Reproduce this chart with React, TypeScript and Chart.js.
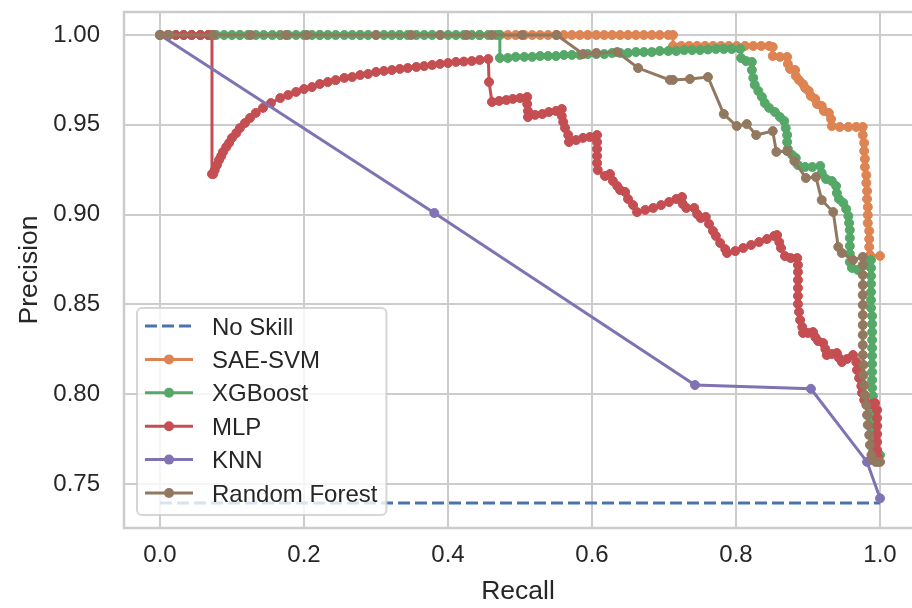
import React, { useEffect, useRef } from 'react';
import { Chart, registerables } from 'chart.js';

Chart.register(...registerables);

// ---------- data ----------
const seriesNames = ['No Skill', 'SAE-SVM', 'XGBoost', 'MLP', 'KNN', 'Random Forest'];
const seriesColors = ['#4C72B0', '#DD8452', '#55A868', '#C44E52', '#8172B3', '#937860'];

const xTickValues = [0, 0.2, 0.4, 0.6, 0.8, 1.0];
const xTickLabels = ['0.0', '0.2', '0.4', '0.6', '0.8', '1.0'];
const yTickValues = [0.75, 0.8, 0.85, 0.9, 0.95, 1.0];
const yTickLabels = ['0.75', '0.80', '0.85', '0.90', '0.95', '1.00'];

const xTitle = 'Recall';
const yTitle = 'Precision';

// [recall, precision]
const noSkillPoints: [number, number][] = [[0, 0.7394], [1, 0.7394]];

const saeSvmPoints: [number, number][] = [
  [0, 1], [0.056, 1], [0.111, 1], [0.167, 1], [0.222, 1], [0.278, 1], [0.333, 1], [0.389, 1], [0.444, 1],
  [0.472, 1], [0.483, 1], [0.494, 1], [0.506, 1], [0.517, 1], [0.528, 1], [0.539, 1], [0.55, 1], [0.561, 1],
  [0.572, 1], [0.583, 1], [0.594, 1], [0.606, 1], [0.617, 1], [0.628, 1], [0.639, 1], [0.65, 1], [0.661, 1],
  [0.672, 1], [0.683, 1], [0.694, 1], [0.706, 1], [0.7125, 1],
  [0.7125, 0.9939], [0.724, 0.9939], [0.735, 0.9939], [0.746, 0.9939], [0.757, 0.9939], [0.768, 0.9939],
  [0.779, 0.9939], [0.79, 0.9939], [0.801, 0.9939], [0.8125, 0.9939], [0.824, 0.9939], [0.835, 0.9939],
  [0.846, 0.9939], [0.851, 0.9933],
  [0.851, 0.9883], [0.861, 0.9878], [0.871, 0.9878], [0.872, 0.9839], [0.875, 0.9811], [0.882, 0.9805],
  [0.883, 0.9772], [0.8875, 0.9749], [0.893, 0.9727], [0.896, 0.9705], [0.901, 0.9688], [0.904, 0.966],
  [0.91, 0.9644], [0.9125, 0.9616], [0.919, 0.9605], [0.922, 0.9577], [0.929, 0.9566], [0.932, 0.9532],
  [0.933, 0.9493], [0.944, 0.9488], [0.956, 0.9488], [0.967, 0.9488], [0.976, 0.9488],
  [0.976, 0.9443], [0.978, 0.9399], [0.978, 0.9354], [0.979, 0.931], [0.979, 0.9265], [0.981, 0.922],
  [0.981, 0.9176], [0.982, 0.9131], [0.982, 0.9087], [0.983, 0.9042], [0.983, 0.8998], [0.983, 0.8953],
  [0.985, 0.8909], [0.985, 0.8864], [0.985, 0.882], [0.986, 0.8775], [1.0, 0.877],
];

const xgboostPoints: [number, number][] = [
  [0, 1], [0.011, 1], [0.022, 1], [0.033, 1], [0.044, 1], [0.056, 1], [0.067, 1], [0.078, 1], [0.089, 1],
  [0.1, 1], [0.111, 1], [0.122, 1], [0.133, 1], [0.144, 1], [0.156, 1], [0.167, 1], [0.178, 1], [0.189, 1],
  [0.2, 1], [0.211, 1], [0.222, 1], [0.233, 1], [0.244, 1], [0.256, 1], [0.267, 1], [0.278, 1], [0.289, 1],
  [0.3, 1], [0.311, 1], [0.322, 1], [0.333, 1], [0.344, 1], [0.356, 1], [0.367, 1], [0.378, 1], [0.389, 1],
  [0.4, 1], [0.411, 1], [0.422, 1], [0.433, 1], [0.444, 1], [0.456, 1], [0.467, 1], [0.472, 1],
  [0.472, 0.9872], [0.483, 0.9872], [0.494, 0.9878], [0.506, 0.9878], [0.517, 0.9878], [0.528, 0.9883],
  [0.539, 0.9883], [0.55, 0.9883], [0.561, 0.9889], [0.572, 0.9889], [0.583, 0.9889], [0.594, 0.9894],
  [0.606, 0.9894], [0.617, 0.9894], [0.628, 0.99], [0.639, 0.99], [0.65, 0.99], [0.661, 0.9905],
  [0.672, 0.9905], [0.683, 0.9905], [0.694, 0.9911], [0.706, 0.9911], [0.717, 0.9911], [0.728, 0.9916],
  [0.739, 0.9916], [0.75, 0.9916], [0.761, 0.9919], [0.772, 0.9922], [0.783, 0.9922], [0.794, 0.9922],
  [0.806, 0.9922],
  [0.807, 0.9872], [0.814, 0.9855], [0.822, 0.985], [0.822, 0.9805], [0.824, 0.9761], [0.826, 0.9722],
  [0.831, 0.9688], [0.836, 0.9655], [0.84, 0.9621], [0.846, 0.9594], [0.854, 0.9571], [0.861, 0.9543],
  [0.867, 0.9521], [0.869, 0.9482], [0.871, 0.9443], [0.871, 0.9404], [0.872, 0.9365], [0.878, 0.9332],
  [0.883, 0.9315], [0.886, 0.9276], [0.896, 0.9265], [0.906, 0.9265], [0.917, 0.9271], [0.919, 0.9232],
  [0.925, 0.9198], [0.933, 0.9187], [0.939, 0.9159], [0.94, 0.912], [0.943, 0.9087], [0.949, 0.9065],
  [0.953, 0.9031], [0.956, 0.8992], [0.957, 0.8953], [0.958, 0.8914], [0.958, 0.887], [0.958, 0.8825],
  [0.958, 0.8781], [0.958, 0.8736], [0.961, 0.8703], [0.969, 0.8692], [0.979, 0.8719], [0.9875, 0.8747],
  [0.9875, 0.8703], [0.9875, 0.8658], [0.9875, 0.8614], [0.9875, 0.8569], [0.9875, 0.8524], [0.9875, 0.848],
  [0.989, 0.8435], [0.989, 0.8391], [0.989, 0.8346], [0.989, 0.8302], [0.989, 0.8257], [0.989, 0.8213],
  [0.989, 0.8168], [0.989, 0.8124], [0.989, 0.8079], [0.989, 0.8035], [0.99, 0.799], [0.99, 0.7945],
  [0.99, 0.7901], [0.99, 0.7856], [0.99, 0.7812], [0.99, 0.7767], [0.99, 0.7723], [0.99, 0.7678],
  [1.0, 0.7661],
];

const mlpPoints: [number, number][] = [
  [0, 1], [0.011, 1], [0.022, 1], [0.033, 1], [0.044, 1], [0.056, 1], [0.067, 1], [0.0722, 1],
  [0.0722, 0.9226], [0.074, 0.9226], [0.076, 0.9248], [0.079, 0.9276], [0.082, 0.9304], [0.085, 0.9326],
  [0.0875, 0.9349], [0.092, 0.9376], [0.096, 0.9399], [0.1, 0.9427], [0.106, 0.9454], [0.111, 0.9482],
  [0.118, 0.951], [0.125, 0.9538], [0.133, 0.9566], [0.143, 0.9594], [0.154, 0.9621], [0.167, 0.9649],
  [0.178, 0.9666], [0.189, 0.9683], [0.2, 0.9699], [0.211, 0.971], [0.222, 0.9727], [0.233, 0.9738],
  [0.244, 0.9749], [0.256, 0.9761], [0.267, 0.9766], [0.278, 0.9777], [0.289, 0.9783], [0.3, 0.9794],
  [0.311, 0.98], [0.322, 0.9805], [0.333, 0.9811], [0.344, 0.9816], [0.356, 0.9822], [0.367, 0.9827],
  [0.378, 0.9833], [0.389, 0.9839], [0.4, 0.9844], [0.411, 0.985], [0.422, 0.9852], [0.433, 0.9855],
  [0.444, 0.9861], [0.456, 0.9866],
  [0.457, 0.9738], [0.461, 0.9627], [0.471, 0.9633], [0.481, 0.9638], [0.49, 0.9644], [0.5, 0.9649],
  [0.51, 0.9655], [0.51, 0.9616], [0.511, 0.9577], [0.511, 0.9543], [0.521, 0.9555], [0.531, 0.956],
  [0.54, 0.9571], [0.55, 0.9577], [0.558, 0.9588], [0.558, 0.9549], [0.56, 0.9516], [0.5625, 0.9482],
  [0.567, 0.9443], [0.568, 0.9404], [0.578, 0.9415], [0.5875, 0.9427], [0.597, 0.9432], [0.607, 0.9443],
  [0.607, 0.9404], [0.607, 0.9365], [0.607, 0.9326], [0.607, 0.9287], [0.608, 0.9248], [0.618, 0.9215],
  [0.625, 0.9226], [0.629, 0.9187], [0.635, 0.9159], [0.639, 0.9137], [0.646, 0.9126], [0.65, 0.9087],
  [0.657, 0.9053], [0.6625, 0.9014], [0.674, 0.9026], [0.685, 0.9037], [0.696, 0.9053], [0.707, 0.907],
  [0.717, 0.9087], [0.725, 0.9098], [0.726, 0.9059], [0.731, 0.9037], [0.742, 0.9037], [0.746, 0.9003],
  [0.751, 0.8981], [0.758, 0.8987], [0.7625, 0.8948], [0.768, 0.8909], [0.772, 0.8881], [0.778, 0.8842],
  [0.785, 0.8808], [0.7875, 0.8786], [0.799, 0.8797], [0.81, 0.8814], [0.821, 0.8831], [0.832, 0.8847],
  [0.843, 0.8864], [0.853, 0.8881], [0.857, 0.8886], [0.86, 0.8847], [0.8625, 0.8814], [0.868, 0.8769],
  [0.876, 0.8758], [0.885, 0.8758], [0.886, 0.8719], [0.886, 0.868], [0.886, 0.8636], [0.886, 0.8591],
  [0.886, 0.8547], [0.886, 0.8502], [0.8875, 0.8458], [0.889, 0.8413], [0.892, 0.8374], [0.893, 0.8341],
  [0.9, 0.8341], [0.907, 0.8346], [0.91, 0.8318], [0.914, 0.8296], [0.921, 0.8285], [0.924, 0.8252],
  [0.926, 0.8218], [0.933, 0.8224], [0.94, 0.8229], [0.943, 0.8202], [0.947, 0.8179], [0.954, 0.8196],
  [0.9625, 0.8218], [0.967, 0.8179], [0.968, 0.8135], [0.971, 0.809], [0.974, 0.8046], [0.975, 0.8007],
  [0.978, 0.7968], [0.982, 0.794], [0.9875, 0.7945], [0.993, 0.7951], [0.996, 0.7912], [0.996, 0.7867],
  [0.996, 0.7823], [0.996, 0.7778], [0.996, 0.7734], [0.996, 0.7689], [0.997, 0.765],
];

const knnPoints: [number, number][] = [
  [0, 1.0], [0.381, 0.9009], [0.743, 0.8051], [0.904, 0.803], [0.982, 0.7623], [1.0, 0.742],
];

const randomForestPoints: [number, number][] = [
  [0, 1], [0.0125, 1], [0.074, 1], [0.126, 1], [0.175, 1], [0.204, 1], [0.3, 1], [0.349, 1], [0.389, 1],
  [0.426, 1], [0.461, 1], [0.503, 1], [0.551, 1],
  [0.5875, 0.9894], [0.606, 0.99], [0.635, 0.9905], [0.664, 0.9816], [0.708, 0.975], [0.7125, 0.975],
  [0.736, 0.9755], [0.761, 0.9766], [0.783, 0.956], [0.801, 0.9493], [0.815, 0.9504], [0.828, 0.9443],
  [0.851, 0.9465], [0.856, 0.9349], [0.871, 0.9354], [0.881, 0.9298], [0.897, 0.9204], [0.911, 0.9209],
  [0.919, 0.9081], [0.935, 0.9014], [0.942, 0.882], [0.947, 0.8786], [0.9625, 0.8747], [0.976, 0.8764],
  [0.976, 0.8719], [0.976, 0.8664], [0.976, 0.8608], [0.976, 0.8552], [0.976, 0.8497], [0.976, 0.8441],
  [0.976, 0.8385], [0.976, 0.833], [0.976, 0.8274], [0.976, 0.8218], [0.977, 0.8163], [0.977, 0.8107],
  [0.978, 0.8051], [0.979, 0.7996], [0.981, 0.794], [0.982, 0.7884], [0.983, 0.7829], [0.985, 0.7773],
  [0.986, 0.7717], [0.988, 0.7661], [0.99, 0.7634], [0.994, 0.7623], [0.997, 0.7623], [1.0, 0.7623],
];

const seriesPoints = [noSkillPoints, saeSvmPoints, xgboostPoints, mlpPoints, knnPoints, randomForestPoints];

// ---------- style ----------
const FONT = '"Liberation Sans", Arial, Helvetica, sans-serif';
const TEXT = '#262626';
const GRID = '#cccccc';
const POINT_R = 4.5;

const framePlugin = {
  id: 'frame',
  afterDatasetsDraw(chart: any) {
    const { ctx, chartArea: a } = chart;
    ctx.save();
    ctx.strokeStyle = GRID;
    ctx.lineWidth = 2.5;
    ctx.beginPath();
    ctx.moveTo(a.right + 2, a.top);
    ctx.lineTo(a.left, a.top);
    ctx.lineTo(a.left, a.bottom);
    ctx.lineTo(a.right + 2, a.bottom);
    ctx.stroke();
    ctx.restore();
  },
};

const legendPlugin = {
  id: 'prLegend',
  afterDraw(chart: any) {
    const { ctx, chartArea: a } = chart;
    const ds = chart.data.datasets;
    ctx.save();
    ctx.font = `24px ${FONT}`;
    const rowH = 33.4;
    const padX = 8;
    const handleW = 48;
    const gap = 19;
    const maxW = Math.max(...seriesNames.map((n) => ctx.measureText(n).width));
    const boxW = padX + handleW + gap + maxW + 9;
    const boxH = 207;
    const boxX = a.left + 13;
    const boxY = a.bottom - 13 - boxH;
    ctx.beginPath();
    if (ctx.roundRect) ctx.roundRect(boxX, boxY, boxW, boxH, 5);
    else ctx.rect(boxX, boxY, boxW, boxH);
    ctx.fillStyle = 'rgba(255,255,255,0.8)';
    ctx.fill();
    ctx.strokeStyle = 'rgba(204,204,204,0.8)';
    ctx.lineWidth = 2;
    ctx.stroke();

    seriesNames.forEach((name, i) => {
      const d = ds[i];
      const cy = boxY + 18 + i * rowH;
      const x0 = boxX + padX;
      ctx.strokeStyle = d.borderColor;
      ctx.lineWidth = d.borderWidth;
      ctx.setLineDash(d.borderDash || []);
      ctx.beginPath();
      ctx.moveTo(x0, cy);
      ctx.lineTo(x0 + handleW, cy);
      ctx.stroke();
      ctx.setLineDash([]);
      if (d.pointRadius > 0) {
        ctx.fillStyle = d.borderColor;
        ctx.beginPath();
        ctx.arc(x0 + handleW / 2, cy, d.pointRadius + 0.5, 0, Math.PI * 2);
        ctx.fill();
      }
      ctx.fillStyle = TEXT;
      ctx.textBaseline = 'alphabetic';
      ctx.textAlign = 'left';
      ctx.fillText(name, x0 + handleW + gap, cy + 8.6);
    });
    ctx.restore();
  },
};

export default function App() {
  const ref = useRef<HTMLCanvasElement | null>(null);

  useEffect(() => {
    if (!ref.current) return;
    const datasets = seriesNames.map((name, i) => {
      const isNoSkill = i === 0;
      return {
        label: name,
        data: seriesPoints[i].map(([x, y]) => ({ x, y })),
        showLine: true,
        borderColor: seriesColors[i],
        backgroundColor: seriesColors[i],
        pointBackgroundColor: seriesColors[i],
        pointBorderColor: seriesColors[i],
        borderWidth: 3,
        borderDash: isNoSkill ? [12, 5] : [],
        pointRadius: isNoSkill ? 0 : POINT_R,
        pointBorderWidth: 1,
        pointHoverRadius: 0,
        tension: 0,
        order: seriesNames.length - i,
      };
    });

    const chart = new Chart(ref.current, {
      type: 'scatter',
      data: { datasets },
      plugins: [framePlugin, legendPlugin],
      options: {
        animation: false,
        responsive: false,
        events: [],
        layout: { autoPadding: false, padding: { left: 0, top: 12, right: 0, bottom: 0 } },
        plugins: {
          legend: { display: false },
          tooltip: { enabled: false },
        },
        scales: {
          x: {
            type: 'linear',
            min: -0.05,
            max: 1.0444,
            afterBuildTicks: (s: any) => {
              s.ticks = xTickValues.map((v) => ({ value: v }));
            },
            afterFit: (s: any) => {
              s.height = 80;
              s.paddingLeft = 0;
              s.paddingRight = 0;
            },
            grid: { color: GRID, lineWidth: 2, drawTicks: false },
            border: { display: false },
            ticks: {
              autoSkip: false,
              maxRotation: 0,
              padding: 13,
              color: TEXT,
              font: { family: FONT, size: 24 },
              callback: (v: any) => {
                const idx = xTickValues.findIndex((t) => Math.abs(t - v) < 1e-9);
                return idx >= 0 ? xTickLabels[idx] : '';
              },
            },
            title: {
              display: true,
              text: xTitle,
              color: TEXT,
              font: { family: FONT, size: 26.5 },
              padding: { top: 0, bottom: 0 },
            },
          },
          y: {
            type: 'linear',
            min: 0.7255,
            max: 1.0128,
            afterBuildTicks: (s: any) => {
              s.ticks = yTickValues.map((v) => ({ value: v }));
            },
            afterFit: (s: any) => {
              s.width = 124;
              s.paddingTop = 0;
              s.paddingBottom = 0;
            },
            grid: { color: GRID, lineWidth: 2, drawTicks: false },
            border: { display: false },
            ticks: {
              autoSkip: false,
              padding: 24,
              color: TEXT,
              font: { family: FONT, size: 24 },
              callback: (v: any) => {
                const idx = yTickValues.findIndex((t) => Math.abs(t - v) < 1e-9);
                return idx >= 0 ? yTickLabels[idx] : '';
              },
            },
            title: {
              display: true,
              text: yTitle,
              color: TEXT,
              font: { family: FONT, size: 26.5 },
              padding: { top: 14, bottom: 0 },
            },
          },
        },
      } as any,
    });
    return () => chart.destroy();
  }, []);

  return (
    <div style={{ position: 'absolute', left: 0, top: 0, width: 912, height: 608, background: '#fff' }}>
      <canvas ref={ref} width={912} height={608} style={{ width: 912, height: 608, display: 'block' }} />
    </div>
  );
}
